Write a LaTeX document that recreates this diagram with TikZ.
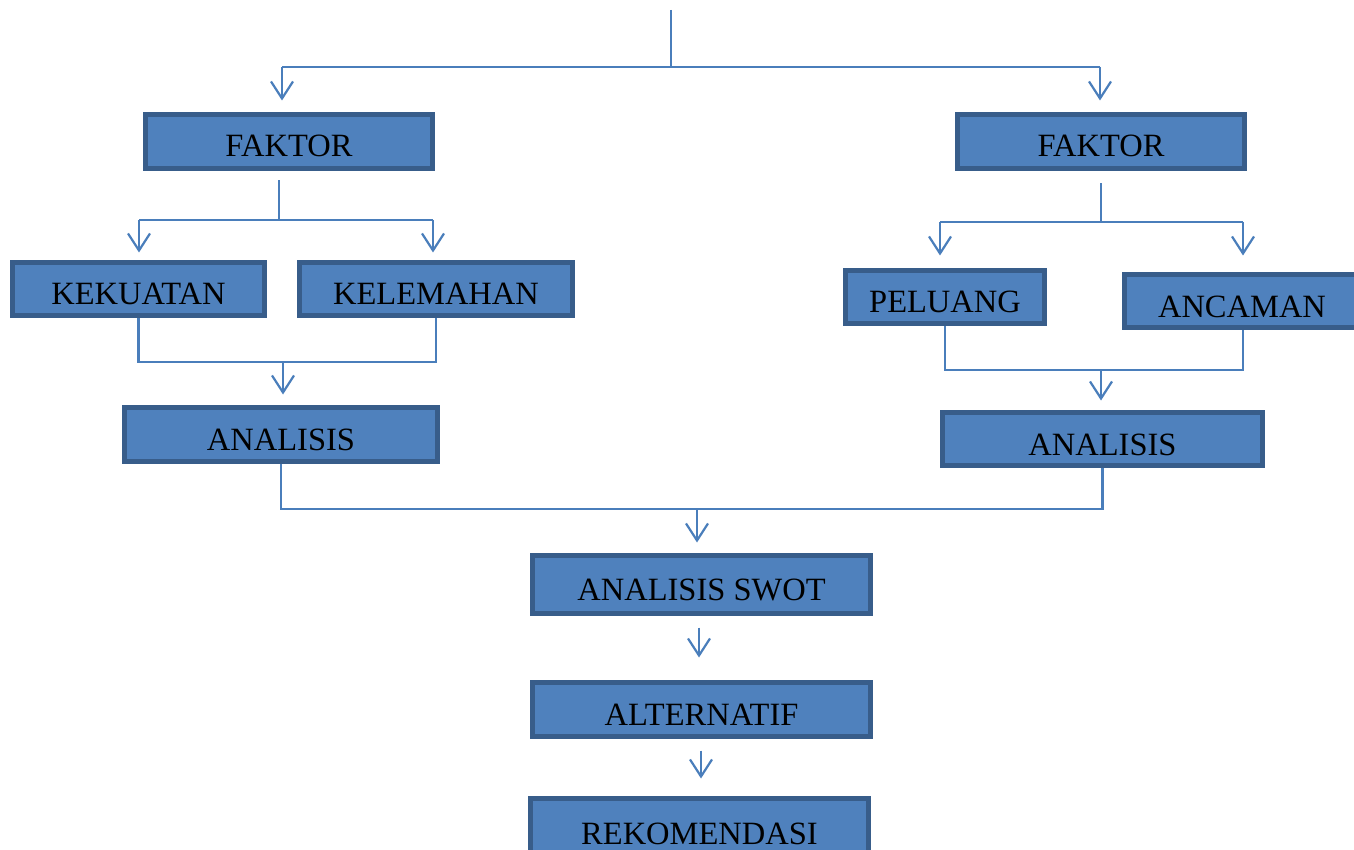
\documentclass[tikz,border=0pt]{standalone}
\usepackage{fontspec}
\setmainfont{Liberation Serif}
\usetikzlibrary{arrows.meta}
\definecolor{boxfill}{HTML}{4F81BD}
\definecolor{boxline}{HTML}{385D8A}
\definecolor{connc}{HTML}{4A7EBB}
\begin{document}
\begin{tikzpicture}[x=1pt,y=-1pt,
  box/.style={draw=boxline,fill=boxfill,line width=5pt,inner sep=0pt,
    text height=31pt,text depth=0pt,font=\fontsize{32.5}{38}\selectfont},
  conn/.style={draw=connc,line width=2.2pt},
  arr/.style={conn,-{Straight Barb[length=17pt,width=22pt,line width=2.2pt]}}]
\useasboundingbox (0,0) rectangle (1354,850);
% boxes
\node[box,minimum width=287,minimum height=54] (fl) at (289,141.5) {FAKTOR};
\node[box,minimum width=287,minimum height=54] (fr) at (1101,141.5) {FAKTOR};
\node[box,minimum width=252,minimum height=53] (kk) at (138.5,289) {KEKUATAN};
\node[box,minimum width=273,minimum height=53] (kl) at (436,289) {KELEMAHAN};
\node[box,minimum width=199,minimum height=53] (pl) at (945,297) {PELUANG};
\node[box,minimum width=250,minimum height=53,text height=33pt] (an) at (1249.5,301) {\hspace{-15pt}ANCAMAN};
\node[box,minimum width=313,minimum height=54] (al) at (281,434.5) {ANALISIS};
\node[box,minimum width=320,minimum height=53,text height=33pt] (ar) at (1102.5,439) {ANALISIS};
\node[box,minimum width=338,minimum height=58] (sw) at (701.5,584.5) {ANALISIS SWOT};
\node[box,minimum width=338,minimum height=54] (alt) at (701.5,709.5) {ALTERNATIF};
\node[box,minimum width=338,minimum height=59,text height=33pt] (rek) at (699.5,828) {REKOMENDASI};
% top split
\coordinate (top) at (671,10);
\coordinate (tl) at (282,67);
\coordinate (tr) at (1100,67);
\draw[conn] (top) -- (top |- tl);
\draw[conn] (tl) -- (tr);
\draw[arr,shorten >=11.5pt] (tl) -- (tl |- fl.north);
\draw[arr,shorten >=11.5pt] (tr) -- (tr |- fr.north);
% left FAKTOR split
\coordinate (fjl) at (279,220);
\coordinate (fjl1) at (139,220);
\coordinate (fjl2) at (433,220);
\draw[conn] ([xshift=-10pt,yshift=-9.5pt]fl.south) -- (fjl);
\draw[conn] (fjl1) -- (fjl2);
\draw[arr,shorten >=7.5pt] (fjl1) -- (fjl1 |- kk.north);
\draw[arr,shorten >=7.5pt] (fjl2) -- (fjl2 |- kl.north);
% right FAKTOR split
\coordinate (fjr) at (1101,222);
\coordinate (fjr1) at (940,222);
\coordinate (fjr2) at (1243,222);
\draw[conn] ([yshift=-12.5pt]fr.south) -- (fjr);
\draw[conn] (fjr1) -- (fjr2);
\draw[arr,shorten >=12.5pt] (fjr1) -- (fjr1 |- pl.north);
\draw[arr,shorten >=16.5pt] (fjr2) -- (fjr2 |- an.north);
% left merge
\coordinate (ja) at (283,362);
\draw[conn] (kk.south) -- (kk.south |- ja) -| (kl.south);
\draw[arr,shorten >=10.5pt] (ja) -- (ja |- al.north);
% right merge
\coordinate (jb) at (1101,370);
\draw[conn] (pl.south) -- (pl.south |- jb) -| ([xshift=-6.5pt]an.south);
\draw[arr,shorten >=9.5pt] (jb) -- (jb |- ar.north);
% bottom merge
\coordinate (jc) at (697,509);
\draw[conn] (al.south) -- (al.south |- jc) -| (ar.south);
\draw[arr,shorten >=10.5pt] (jc) -- (jc |- sw.north);
% chain
\draw[arr,shorten <=11.5pt,shorten >=22.5pt] ([xshift=-2.5pt]sw.south) -- ([xshift=-2.5pt]sw.south |- alt.north);
\draw[arr,shorten <=11.5pt,shorten >=17.5pt] ([xshift=-0.5pt]alt.south) -- ([xshift=-0.5pt]alt.south |- rek.north);
\end{tikzpicture}
\end{document}
